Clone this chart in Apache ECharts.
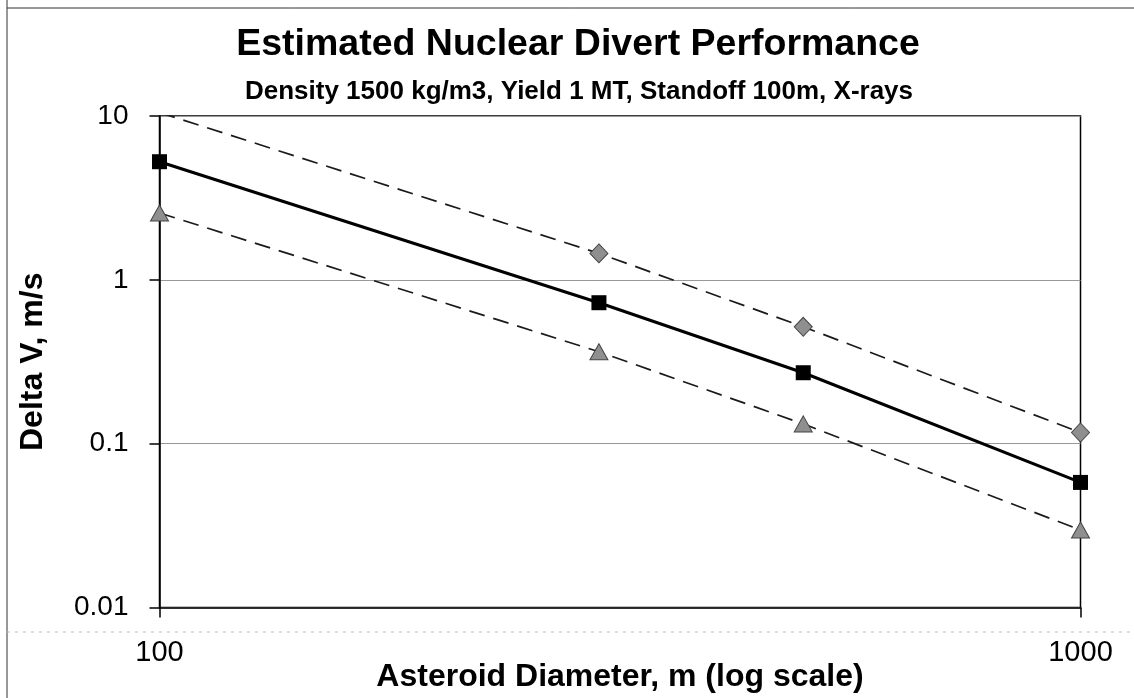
<!DOCTYPE html>
<html>
<head>
<meta charset="utf-8">
<script src="https://cdn.jsdelivr.net/npm/echarts@6/dist/echarts.min.js"></script>
<style>
html,body{margin:0;padding:0;background:#fff;}
#chart{width:1134px;height:698px;}
</style>
</head>
<body>
<div id="chart"></div>
<script>
// Data
var diameters = [100, 300, 500, 1000];
var nominalDV = [5.26, 0.725, 0.271, 0.058];
var upperDV   = [10.5, 1.45, 0.517, 0.117];
var lowerDV   = [2.56, 0.364, 0.132, 0.0297];
var yTickLabels = ['0.01', '0.1', '1', '10'];
var xTickLabels = ['100', '1000'];

function pairs(xs, ys) {
  return xs.map(function (x, i) { return [x, ys[i]]; });
}

var FONT = '"Liberation Sans", Arial, sans-serif';
var chart = echarts.init(document.getElementById('chart'), null, {renderer: 'canvas'});

chart.setOption({
  backgroundColor: '#fff',
  animation: false,
  title: [
    {
      text: 'Estimated Nuclear Divert Performance',
      left: 573, top: 21, textAlign: 'center',
      textStyle: {fontFamily: FONT, fontSize: 37.5, fontWeight: 'bold', color: '#000'}
    },
    {
      text: 'Density 1500 kg/m3, Yield 1 MT, Standoff 100m, X-rays',
      left: 574, top: 74, textAlign: 'center',
      textStyle: {fontFamily: FONT, fontSize: 26, fontWeight: 'bold', color: '#000'}
    }
  ],
  grid: {
    left: 159.5, right: 53.5, top: 116, bottom: 90.5,
    containLabel: false, outerBoundsMode: 'none',
    show: true, borderColor: '#000', borderWidth: 1.5, backgroundColor: '#fff'
  },
  xAxis: {
    type: 'log', logBase: 10, min: 100, max: 1000,
    name: 'Asteroid Diameter, m (log scale)',
    nameLocation: 'middle', nameGap: 54, nameMoveOverlap: false,
    nameTextStyle: {fontFamily: FONT, fontSize: 32, fontWeight: 'bold', color: '#000'},
    axisLine: {show: true, lineStyle: {color: '#000', width: 1.5}},
    axisTick: {show: true, length: 10, lineStyle: {color: '#000', width: 1.5}},
    minorTick: {show: false},
    splitLine: {show: false},
    axisLabel: {
      margin: 31, fontFamily: FONT, fontSize: 29, color: '#000',
      formatter: function (v) {
        var s = String(Math.round(v));
        return xTickLabels.indexOf(s) >= 0 ? s : '';
      }
    }
  },
  yAxis: {
    type: 'log', logBase: 10, min: 0.01, max: 10,
    name: 'Delta V, m/s',
    nameLocation: 'middle', nameGap: 110, nameRotate: 90, nameMoveOverlap: false,
    nameTextStyle: {fontFamily: FONT, fontSize: 32, fontWeight: 'bold', color: '#000'},
    axisLine: {show: true, lineStyle: {color: '#000', width: 1.5}},
    axisTick: {show: true, length: 10, lineStyle: {color: '#000', width: 1.5}},
    splitLine: {show: true, lineStyle: {color: '#999', width: 1}},
    axisLabel: {
      margin: 31, fontFamily: FONT, fontSize: 28, color: '#000',
      formatter: function (v) {
        var e = Math.round(Math.log(v) / Math.LN10);
        return yTickLabels[e + 2] || '';
      }
    }
  },
  graphic: [
    {type: 'line', shape: {x1: 7, y1: 0, x2: 7, y2: 698}, style: {stroke: '#333', lineWidth: 1}, silent: true},
    {type: 'line', shape: {x1: 7, y1: 8, x2: 1134, y2: 8}, style: {stroke: '#333', lineWidth: 1}, silent: true},
    {type: 'line', shape: {x1: 7, y1: 632, x2: 1134, y2: 632}, style: {stroke: '#bbb', lineWidth: 1, lineDash: [3, 5]}, silent: true}
  ],
  series: [
    {
      name: 'Upper', type: 'line', data: pairs(diameters, upperDV),
      clip: true,
      symbol: 'diamond', symbolSize: [18, 19],
      lineStyle: {color: '#1a1a1a', width: 1.7, type: [16, 9]},
      itemStyle: {color: '#8f8f8f', borderColor: '#444', borderWidth: 1}
    },
    {
      name: 'Lower', type: 'line', data: pairs(diameters, lowerDV),
      clip: true,
      symbol: 'triangle', symbolSize: [18, 16],
      lineStyle: {color: '#1a1a1a', width: 1.7, type: [16, 9]},
      itemStyle: {color: '#8f8f8f', borderColor: '#444', borderWidth: 1}
    },
    {
      name: 'Nominal', type: 'line', data: pairs(diameters, nominalDV),
      clip: false,
      symbol: 'rect', symbolSize: 15,
      lineStyle: {color: '#000', width: 3},
      itemStyle: {color: '#000', borderColor: '#000', borderWidth: 0}
    }
  ]
});
</script>
</body>
</html>
